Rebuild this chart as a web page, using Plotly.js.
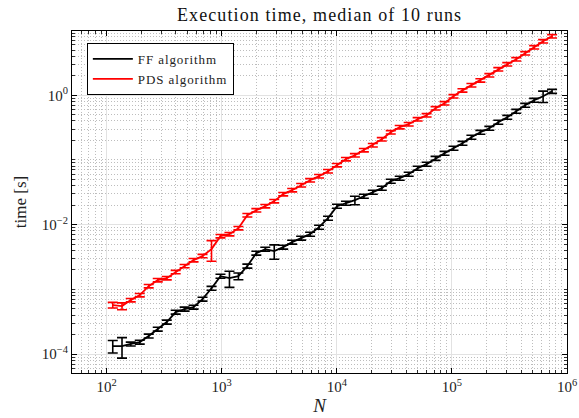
<!DOCTYPE html>
<html>
<head>
<meta charset="utf-8">
<script src="https://cdn.plot.ly/plotly-3.0.1.min.js"></script>
<style>
html,body{margin:0;padding:0;background:#fff;}
#chart{width:579px;height:418px;}
.gtitle{letter-spacing:1.1px;}
.legendtext{letter-spacing:0.9px;}
</style>
</head>
<body>
<div id="chart"></div>
<script>
// Problem sizes N
const N = [113,136,162,194,232,278,333,398,476,569,681,815,975,1167,1396,1670,1998,2390,2860,3421,
  4094,4897,5859,7010,8386,10032,12003,14360,17180,20555,24592,29421,35199,42112,50384,60279,72117,86282,
  103200,123470,147720,176730,211440,252970,302660,362100,433210,518290,620090,741820];

// FF algorithm median times [s]
const ffTime = [1.33e-4,1.33e-4,1.43e-4,1.53e-4,1.90e-4,2.43e-4,3.12e-4,4.45e-4,4.96e-4,5.32e-4,
  7.07e-4,1.04e-3,1.60e-3,1.49e-3,1.60e-3,2.29e-3,3.63e-3,4.19e-3,3.90e-3,4.50e-3,
  5.37e-3,6.19e-3,7.13e-3,9.15e-3,1.26e-2,1.93e-2,2.15e-2,2.39e-2,2.75e-2,3.18e-2,
  3.66e-2,4.70e-2,5.22e-2,6.03e-2,7.46e-2,8.60e-2,0.106,0.127,0.152,0.181,
  0.225,0.268,0.309,0.383,0.457,0.566,0.701,0.837,0.965,1.15];
// FF relative spread (error bar half-height / value)
const ffSpread = [0.22,0.35,0.07,0.07,0.07,0.07,0.07,0.07,0.07,0.07,
  0.07,0.07,0.07,0.28,0.12,0.07,0.07,0.07,0.25,0.07,
  0.07,0.07,0.07,0.07,0.07,0.07,0.07,0.15,0.07,0.07,
  0.07,0.07,0.07,0.07,0.07,0.07,0.07,0.07,0.07,0.07,
  0.07,0.07,0.07,0.07,0.07,0.07,0.07,0.07,0.2,0.07];

// PDS algorithm median times [s]
const pdsTime = [5.71e-4,5.51e-4,6.82e-4,8.15e-4,1.12e-3,1.39e-3,1.49e-3,1.85e-3,2.29e-3,2.83e-3,
  3.27e-3,4.19e-3,6.64e-3,7.13e-3,8.83e-3,1.40e-2,1.67e-2,1.93e-2,2.31e-2,2.96e-2,
  3.41e-2,4.07e-2,4.86e-2,5.61e-2,6.70e-2,8.30e-2,0.103,0.118,0.142,0.169,
  0.209,0.268,0.321,0.357,0.426,0.491,0.630,0.752,0.965,1.19,
  1.43,1.70,2.04,2.52,3.01,3.60,4.45,5.51,6.82,8.15];
const pdsSpread = [0.1,0.12,0.06,0.06,0.06,0.06,0.06,0.06,0.06,0.06,
  0.06,0.35,0.06,0.06,0.06,0.06,0.06,0.06,0.06,0.06,
  0.06,0.06,0.06,0.06,0.06,0.06,0.06,0.06,0.06,0.06,
  0.06,0.06,0.06,0.06,0.06,0.06,0.06,0.06,0.06,0.06,
  0.06,0.06,0.06,0.06,0.06,0.06,0.06,0.06,0.06,0.06];

const seriesNames = ['FF algorithm','PDS algorithm'];
const xTickVals = [1e2,1e3,1e4,1e5,1e6];
const xTickText = ['10<sup>2</sup>','10<sup>3</sup>','10<sup>4</sup>','10<sup>5</sup>','10<sup>6</sup>'];
const yTickVals = [1e-4,1e-2,1];
const yTickText = ['10<sup>\u22124</sup>','10<sup>\u22122</sup>','10<sup>0</sup>'];

function minorVals(lo, hi){
  const v=[];
  for(let e=lo;e<=hi;e++){ for(let m=1;m<=9;m++){ v.push(m*Math.pow(10,e)); } }
  return v;
}

const FONT = 'Liberation Serif, Times New Roman, serif';

function trace(y, spread, name, color){
  return {
    x: N, y: y, name: name, type: 'scatter', mode: 'lines',
    line: {color: color, width: 1.8},
    error_y: {type:'data', array: y.map((v,i)=>v*spread[i]), visible:true,
              color: color, thickness: 1.6, width: 5}
  };
}

const data = [
  trace(ffTime, ffSpread, seriesNames[0], '#000000'),
  trace(pdsTime, pdsSpread, seriesNames[1], '#ff0000')
];

const gridMinor = {tickmode:'array', ticks:'inside', ticklen:3, tickcolor:'#000', tickwidth:0.8,
  showgrid:true, gridcolor:'#bdbdbd', griddash:'1px,2px', gridwidth:1};

const layout = {
  width: 579, height: 418,
  margin: {l:72, r:12, t:31, b:45},
  paper_bgcolor:'#fff', plot_bgcolor:'#fff',
  font: {family: FONT, color:'#222', size: 14},
  title: {text:'Execution time, median of 10 runs', x:0.552, xanchor:'center', y:0.965, yanchor:'middle',
          font:{family:FONT, size:18, color:'#111'}},
  showlegend: true,
  legend: {x:0.03, y:0.965, xanchor:'left', yanchor:'top', bgcolor:'#fff', bordercolor:'#000', borderwidth:1,
           font:{family:FONT, size:13, color:'#222'}, tracegroupgap:0, itemwidth:40},
  xaxis: {type:'log', range:[1.699, 6], tickmode:'array', tickvals:xTickVals, ticktext:xTickText,
          ticks:'inside', ticklen:5, tickcolor:'#000', showline:true, linecolor:'#000', linewidth:1, mirror:'allticks',
          showgrid:true, gridcolor:'#e2e2e2', gridwidth:1, zeroline:false,
          tickfont:{family:FONT, size:15, color:'#222'},
          minor: Object.assign({tickvals: minorVals(1,5)}, gridMinor),
          title:{text:'<i>N</i>', font:{family:FONT, size:19, color:'#222'}, standoff:4}},
  yaxis: {type:'log', range:[-4.293, 0.993], tickmode:'array', tickvals:yTickVals, ticktext:yTickText,
          ticks:'inside', ticklen:5, tickcolor:'#000', showline:true, linecolor:'#000', linewidth:1, mirror:'allticks',
          showgrid:true, gridcolor:'#e2e2e2', gridwidth:1, zeroline:false,
          tickfont:{family:FONT, size:15, color:'#222'},
          minor: Object.assign({tickvals: minorVals(-5,0)}, gridMinor),
          title:{text:'time [s]', font:{family:FONT, size:17, color:'#222'}, standoff:10}}
};

Plotly.newPlot('chart', data, layout, {displayModeBar:false, staticPlot:true});
</script>
</body>
</html>
